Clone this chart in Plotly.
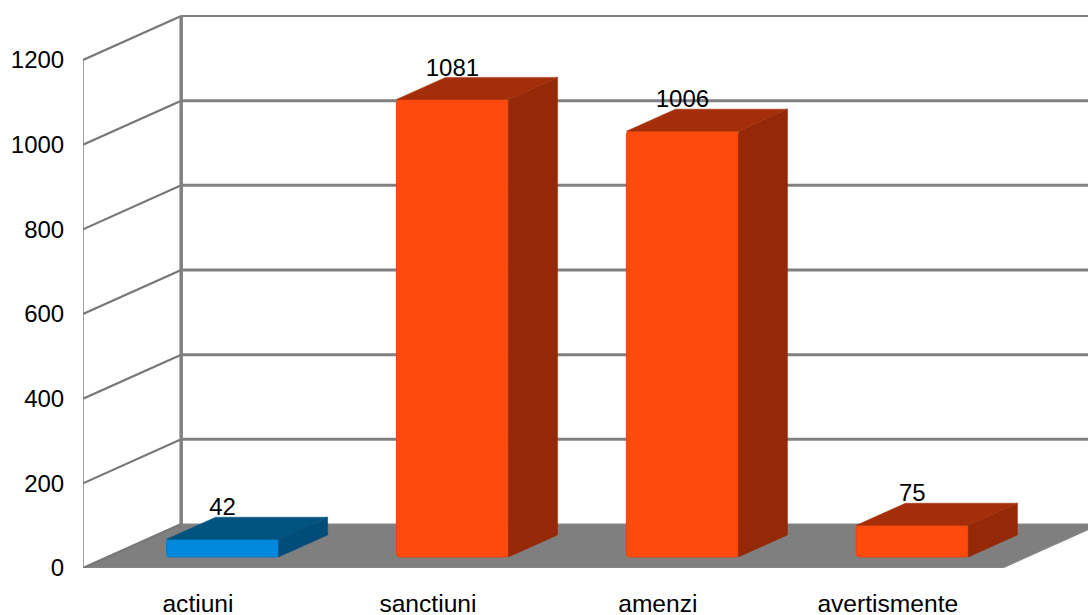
import plotly.graph_objects as go

categories = ["actiuni", "sanctiuni", "amenzi", "avertismente"]
values = [42, 1081, 1006, 75]
y_ticks = [0, 200, 400, 600, 800, 1000, 1200]
front_colors = ["#0088DD", "#FF4A0E", "#FF4A0E", "#FF4A0E"]
edge_colors = ["#0A7CC4", "#E9450F", "#E9450F", "#E9450F"]
top_colors = ["#00527F", "#A32E09", "#A32E09", "#A32E09"]
side_colors = ["#004D7A", "#952907", "#952907", "#952907"]

GRID = "#808080"
FONT = "Liberation Sans, Arial, sans-serif"

# pseudo-3D projection, in axis units (1 category wide, value units high)
DEPTH_X = 0.427   # full floor depth, horizontally
DEPTH_Y = 104.0   # full floor depth, vertically
BAR_W = 0.487
BAR_FRONT = 0.25  # bar occupies depth 0.25..0.75
BAR_BACK = 0.75
LABEL_DROP = 10.0 # data labels sit slightly into the bar top
X_MIN, X_MAX = -0.5, 3.8707
Y_MAX = 1341.8

shapes = []

# floor
fx0, fx1 = X_MIN, 3.5
shapes.append(dict(
    type="path", layer="below", xref="x", yref="y",
    path=f"M {fx0},0 L {fx0 + DEPTH_X},{DEPTH_Y} L {fx1 + DEPTH_X},{DEPTH_Y} L {fx1},0 Z",
    fillcolor="#7F7F7F", line=dict(color="#8A8A8A", width=1),
))
# walls: back horizontal lines and left diagonals
for t in y_ticks:
    if t > 0:
        shapes.append(dict(type="line", layer="below", xref="x", yref="y",
                           x0=X_MIN + DEPTH_X, x1=X_MAX, y0=t + DEPTH_Y, y1=t + DEPTH_Y,
                           line=dict(color=GRID, width=2 if t == 1200 else 3)))
    shapes.append(dict(type="line", layer="below", xref="x", yref="y",
                       x0=X_MIN, x1=X_MIN + DEPTH_X, y0=t, y1=t + DEPTH_Y,
                       line=dict(color="#777777", width=2.2)))
# vertical edges
shapes.append(dict(type="line", layer="below", xref="x", yref="y",
                   x0=X_MIN + DEPTH_X, x1=X_MIN + DEPTH_X, y0=DEPTH_Y, y1=1200 + DEPTH_Y,
                   line=dict(color=GRID, width=3.5)))
shapes.append(dict(type="line", layer="below", xref="x", yref="y",
                   x0=X_MIN, x1=X_MIN, y0=0, y1=1200,
                   line=dict(color=GRID, width=1.5)))

fig = go.Figure()

# front faces are real bars; side and top faces follow from the same values
base_y = BAR_FRONT * DEPTH_Y
cx = [i + BAR_FRONT * DEPTH_X for i in range(len(values))]
fig.add_trace(go.Bar(
    x=cx, y=values, base=[base_y] * len(values), width=BAR_W,
    marker=dict(color=front_colors, line=dict(color=edge_colors, width=1), cornerradius=3),
    showlegend=False, hoverinfo="skip",
))

dx = (BAR_BACK - BAR_FRONT) * DEPTH_X
dy = (BAR_BACK - BAR_FRONT) * DEPTH_Y
for c, v, top, side in zip(cx, values, top_colors, side_colors):
    l, r = c - BAR_W / 2, c + BAR_W / 2
    b, h = base_y, base_y + v
    fig.add_trace(go.Scatter(
        x=[r, r + dx, r + dx, r, r], y=[b, b + dy, h + dy, h, b],
        mode="lines", fill="toself", fillcolor=side,
        line=dict(color=side, width=0.5), showlegend=False, hoverinfo="skip",
    ))
    fig.add_trace(go.Scatter(
        x=[l, l + dx, r + dx, r, l], y=[h, h + dy, h + dy, h, h],
        mode="lines", fill="toself", fillcolor=top,
        line=dict(color=top, width=0.5), showlegend=False, hoverinfo="skip",
    ))

# value labels
fig.add_trace(go.Scatter(
    x=cx, y=[base_y + v + dy - LABEL_DROP for v in values],
    mode="text", text=[str(v) for v in values], textposition="top center",
    textfont=dict(family=FONT, size=24, color="#000000"),
    showlegend=False, hoverinfo="skip",
))

fig.update_layout(
    width=1088, height=615, autosize=False,
    margin=dict(l=0, r=0, t=0, b=0, autoexpand=False),
    paper_bgcolor="#FFFFFF", plot_bgcolor="#FFFFFF",
    shapes=shapes, showlegend=False,
    xaxis=dict(domain=[83 / 1088, 1], range=[X_MIN, X_MAX], automargin=False,
               tickmode="array", tickvals=list(range(len(categories))), ticktext=categories,
               showgrid=False, zeroline=False, showline=False,
               ticks="outside", ticklen=13, tickcolor="rgba(0,0,0,0)",
               tickfont=dict(family=FONT, size=24.6, color="#000000")),
    yaxis=dict(domain=[47 / 615, 1], range=[0, Y_MAX], automargin=False,
               tickmode="array", tickvals=y_ticks,
               showgrid=False, zeroline=False, showline=False,
               ticks="outside", ticklen=13, tickcolor="rgba(0,0,0,0)",
               tickfont=dict(family=FONT, size=24, color="#000000")),
)

fig.write_html("out.html", config={"displayModeBar": False},
               post_script="document.body.style.margin='0';document.body.style.overflow='hidden';")
